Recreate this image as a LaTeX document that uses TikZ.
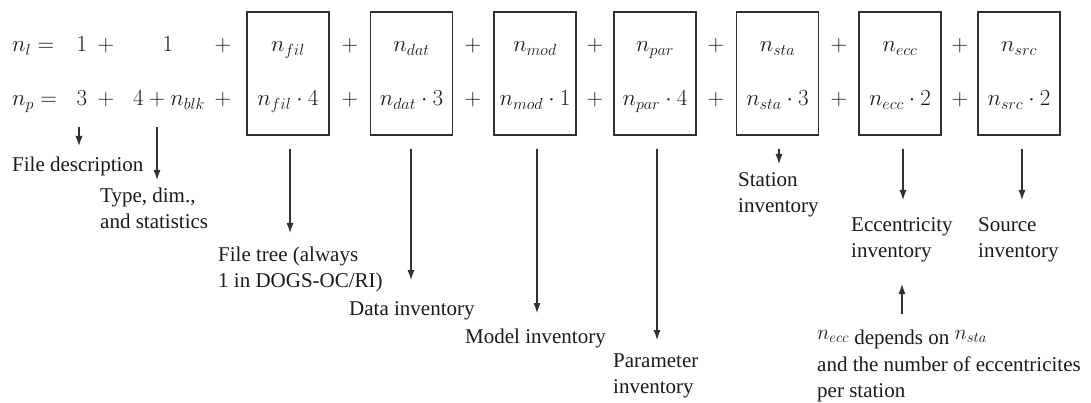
\RequirePackage{fix-cm}
\documentclass[tikz,border=0pt]{standalone}
\usepackage[no-math]{fontspec}
\newfontfamily\lab{Liberation Serif}
\usetikzlibrary{arrows.meta}
\definecolor{ln}{HTML}{303030}
\definecolor{tx}{HTML}{1A1A1A}
\tikzset{
  mth/.style={anchor=base, inner sep=0pt, text=tx, font=\fontsize{23}{28}\selectfont},
  lbl/.style={anchor=base west, inner sep=0pt, align=left, text=tx, font=\lab\fontsize{21}{26}\selectfont},
  blk/.style={draw=ln, line width=1.1pt, minimum width=82pt, minimum height=123pt, inner sep=0pt},
  arr/.style={draw=ln, line width=1.1pt, -{Latex[length=10pt,width=7pt]}}
}
\begin{document}
\begin{tikzpicture}[x=1pt,y=-1pt]
\useasboundingbox (0,0) rectangle (1091,403);
% row 1
\node[mth, anchor=base west] (nl) at (12,52) {$n_l =$};
\node[mth] (l1) at (82,52) {$1$};
\node[mth] (lp1) at (106,52) {$+$};
\node[mth] (l2) at (168,52) {$1$};
\node[mth] (lp2) at (223,52) {$+$};
% row 2
\node[mth, anchor=base west] (np) at (12,106) {$n_p =$};
\node[mth] (p1) at (82,106) {$3$};
\node[mth] (pp1) at (106,106) {$+$};
\node[mth] (p2) at (169,106) {$4+n_{blk}$};
\node[mth] (pp2) at (223,106) {$+$};
% boxes
\foreach \nm/\cx/\f/\px in {fil/288/4/350, dat/411.5/3/473, mod/535/1/595, par/655/4/716, sta/777.5/3/839, ecc/900/2/960, src/1019/2/0}{
  \node[blk] (b\nm) at (\cx,73.5) {};
  \node[mth] (t\nm) at (\cx,52) {$n_{\nm}$};
  \node[mth] (f\nm) at (\cx,106) {$n_{\nm}\cdot \f$};
  \ifnum\px>0
    \node[mth] (pa\nm) at (\px,52) {$+$};
    \node[mth] (pb\nm) at (\px,106) {$+$};
  \fi
}
% labels (base = baseline of the last line)
\node[lbl] (Lfd) at (12,172) {File description};
\node[lbl] (Lty) at (100,229) {Type, dim.,\\and statistics};
\node[lbl] (Lft) at (218,287) {File tree (always\\1 in DOGS-OC/RI)};
\node[lbl] (Lda) at (349,315) {Data inventory};
\node[lbl] (Lmo) at (465,343) {Model inventory};
\node[lbl] (Lpa) at (613,393) {Parameter\\inventory};
\node[lbl] (Lst) at (738,213) {Station\\inventory};
\node[lbl] (Lec) at (851,258) {Eccentricity\\inventory};
\node[lbl] (Lsr) at (978,258) {Source\\inventory};
\node[lbl] (Lnote) at (817,397) {\raisebox{5pt}{$n_{ecc}$} depends on \raisebox{5pt}{$n_{sta}$}\\[1pt]and the number of eccentricites\\per station};
% arrow endpoints
\coordinate (sfd) at (79,127);  \coordinate (efd) at (79,146);
\coordinate (sty) at (157,127); \coordinate (ety) at (157,180);
\coordinate (efil) at (290,233);
\coordinate (edat) at (411,280);
\coordinate (emod) at (537,313);
\coordinate (epar) at (657,340);
\coordinate (esta) at (779,164);
\coordinate (eecc) at (903,200);
\coordinate (esrc) at (1022,200);
\coordinate (snote) at (902,314); \coordinate (enote) at (902,284);
% arrows
\draw[arr] (sfd) -- (efd);
\draw[arr] (sty) -- (ety);
\draw[arr] (bfil.south -| efil) ++(0,13) -- (efil);
\draw[arr] (bdat.south -| edat) ++(0,13) -- (edat);
\draw[arr] (bmod.south -| emod) ++(0,13) -- (emod);
\draw[arr] (bpar.south -| epar) ++(0,13) -- (epar);
\draw[arr] (bsta.south -| esta) ++(0,13) -- (esta);
\draw[arr] (becc.south -| eecc) ++(0,13) -- (eecc);
\draw[arr] (bsrc.south -| esrc) ++(0,13) -- (esrc);
\draw[arr] (snote) -- (enote);
\end{tikzpicture}
\end{document}
